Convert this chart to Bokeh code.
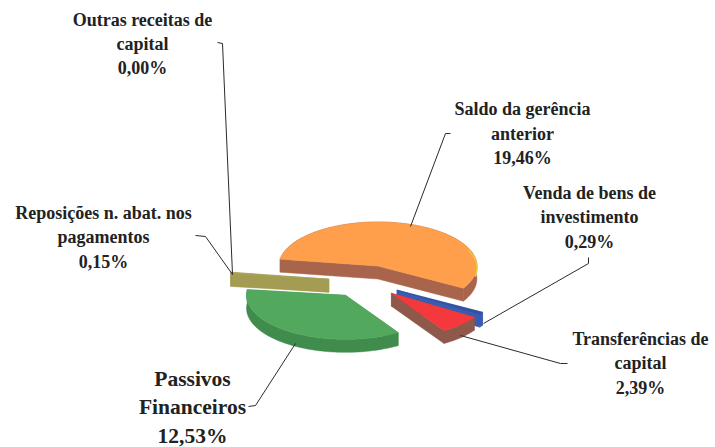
import numpy as np
from bokeh.plotting import figure
from bokeh.core.properties import value
from bokeh.embed import file_html
from bokeh.resources import INLINE

# data, drawn clockwise from the start angle
names = ["Saldo da gerência anterior", "Venda de bens de investimento", "Transferências de capital",
         "Passivos Financeiros", "Reposições n. abat. nos pagamentos", "Outras receitas de capital"]
shares = [19.46, 0.29, 2.39, 12.53, 0.15, 0.00]
label_lines = [["Saldo da gerência", "anterior"], ["Venda de bens de", "investimento"],
               ["Transferências de", "capital"], ["Passivos", "Financeiros"],
               ["Reposições n. abat. nos", "pagamentos"], ["Outras receitas de", "capital"]]
top_colors = ["#FF9F4C", "#34509F", "#F5383C", "#52A85C", "#A8A55E", "#A8A55E"]
side_colors = ["#A9654C", "#3A5CB0", "#8E584A", "#3F8C4C", "#A39C52", "#A39C52"]

# layout
CX, CY, RX, RY, DEPTH, EXPLODE, START = 365, 281, 99, 44, 13, 37, 171
label_x = [522, 589, 640, 192, 103, 142]
label_y = [[108, 133, 157], [192, 216, 241], [338, 362, 387], [378, 406, 435], [212, 236, 261], [19, 43, 67]]
label_size = ["18px", "18px", "18px", "21.5px", "18px", "18px"]
leaders = [
    ([450, 445, 410], [133, 133, 226]),
    ([588, 588, 483], [257, 263, 323]),
    ([567, 560, 460], [363, 363, 335]),
    ([248, 255, 295], [406, 405, 343]),
    ([195, 205, 232], [235, 236, 274]),
    ([217, 222, 232], [42, 43, 274]),
]
DRAW_ORDER = [0, 3, 4, 1, 2]

p = figure(width=715, height=447, x_range=(0, 715), y_range=(447, 0), toolbar_location=None,
           output_backend="svg", min_border=0, outline_line_color=None, background_fill_color="white")
p.axis.visible = False
p.grid.visible = False

total = sum(shares)
angle = START
slices = []
for s in shares:
    sweep = s / total * 360
    slices.append((angle, angle - sweep))
    angle -= sweep

for i in DRAW_ORDER:
    a0, a1 = slices[i]
    mid = np.radians((a0 + a1) / 2)
    cx = CX + EXPLODE * np.cos(mid)
    cy = CY - EXPLODE * RY / RX * np.sin(mid)
    t = np.radians(np.linspace(a0, a1, max(3, int(abs(a0 - a1)) + 2)))
    ax = cx + RX * np.cos(t)
    ay = cy - RY * np.sin(t)
    for (fx, fy) in (([cx, ax[0]], [cy, ay[0]]), ([cx, ax[-1]], [cy, ay[-1]])):
        p.patch([fx[0], fx[1], fx[1], fx[0]], [fy[0], fy[1], fy[1] + DEPTH, fy[0] + DEPTH],
                fill_color=side_colors[i], line_color=side_colors[i], line_width=0.5)
    p.patch(np.concatenate([ax, ax[::-1]]), np.concatenate([ay, ay[::-1] + DEPTH]),
            fill_color=side_colors[i], line_color=side_colors[i], line_width=0.5)
    p.patch(np.concatenate([[cx], ax]), np.concatenate([[cy], ay]),
            fill_color=top_colors[i], line_color=top_colors[i], line_width=0.5)
    if i == 0:
        rim = (t < np.radians(25)) & (t > np.radians(-12))
        p.line(ax[rim], ay[rim] + 2, line_color="#E8C93A", line_width=1.5)

for lx, ly in leaders:
    p.line(lx, ly, line_color="#2b2b2b", line_width=1)

for i, lines in enumerate(label_lines):
    pct = f"{shares[i]:.2f}".replace(".", ",") + "%"
    texts = lines + [pct]
    p.text([label_x[i]] * 3, label_y[i], text=texts, text_align="center", text_baseline="middle",
           text_font=value("Liberation Serif"), text_font_style="bold", text_font_size=label_size[i],
           text_color="#222222")

open("out.html", "w").write(file_html(p, INLINE))
